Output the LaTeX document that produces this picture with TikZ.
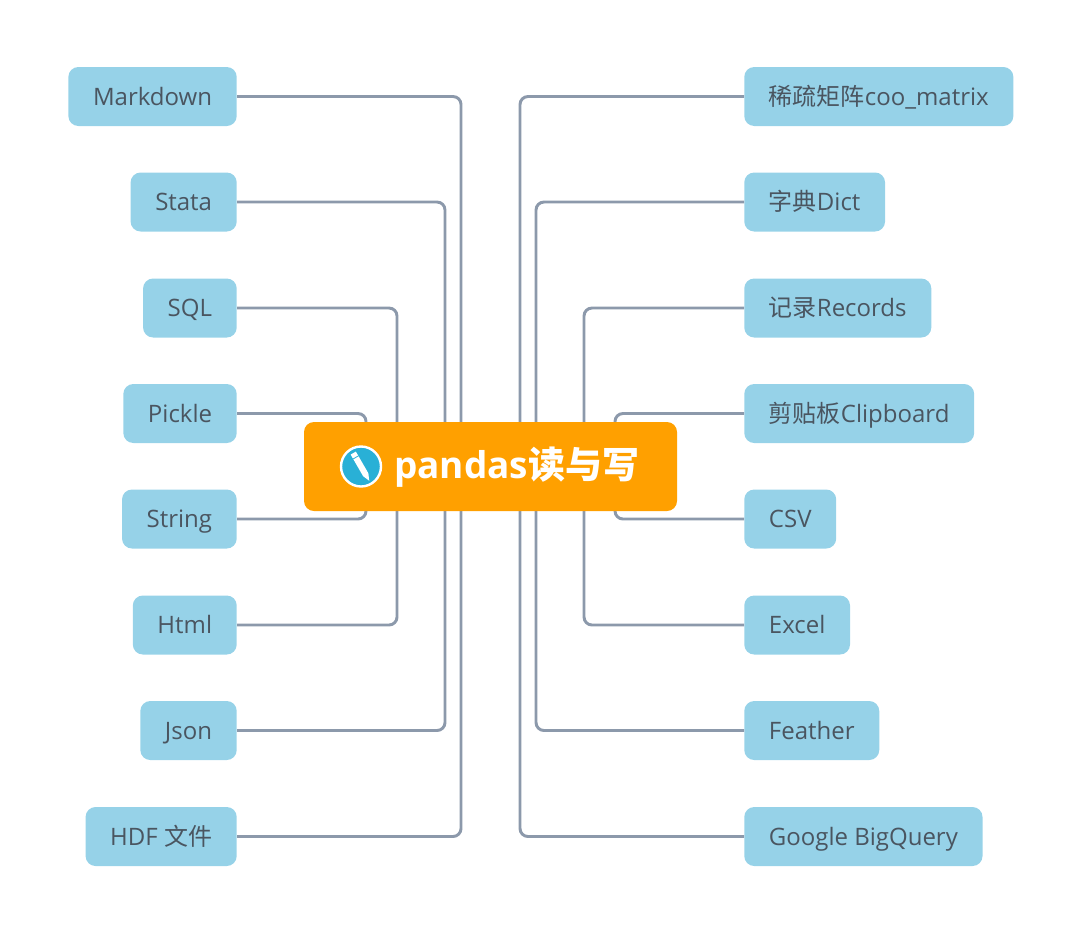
\documentclass[tikz,border=0pt]{standalone}
\usepackage{fontspec}
\setmainfont{Open Sans}
\newfontfamily\cjk{Noto Sans CJK SC}
\usetikzlibrary{positioning}
\definecolor{leafblue}{HTML}{96D2E8}
\definecolor{leafink}{HTML}{4A5560}
\definecolor{rootorange}{HTML}{FFA000}
\definecolor{linkgrey}{HTML}{8C99AB}
\definecolor{iconblue}{HTML}{29B0D6}

\begin{document}
\begin{tikzpicture}[x=0.75pt, y=-0.75pt,
    leaf/.style={fill=leafblue, text=leafink, rounded corners=7.5pt, minimum height=44.25pt, inner xsep=18.5pt, inner ysep=0pt, text height=15.5pt, text depth=2.3pt, font=\fontsize{18}{22}\selectfont},
    lleaf/.style={leaf, anchor=east},
    rleaf/.style={leaf, anchor=west},
    link/.style={draw=linkgrey, line width=2.2pt, rounded corners=6pt},
    root/.style={fill=rootorange, text=white, rounded corners=7.5pt, minimum width=279.75pt, minimum height=66.75pt, inner sep=0pt}]
  \useasboundingbox (0,0) rectangle (1080,933);
  % left column
  \node (markdown) [lleaf] at (237,96.5) {Markdown};
  \node (stata) [lleaf] at (237,202) {Stata};
  \node (sql) [lleaf] at (237,308) {SQL};
  \node (pickle) [lleaf] at (237,413.5) {Pickle};
  \node (string) [lleaf] at (237,519) {String};
  \node (html) [lleaf] at (237,625) {Html};
  \node (json) [lleaf] at (237,730.5) {Json};
  \node (hdf) [lleaf] at (237,836.5) {HDF {\cjk 文件}};
  % right column
  \node (coo) [rleaf] at (744,96.5) {{\cjk 稀疏矩阵}coo\_matrix};
  \node (dict) [rleaf] at (744,202) {{\cjk 字典}Dict};
  \node (records) [rleaf] at (744,308) {{\cjk 记录}Records};
  \node (clipboard) [rleaf] at (744,413.5) {{\cjk 剪贴板}Clipboard};
  \node (csv) [rleaf] at (744,519) {CSV};
  \node (excel) [rleaf] at (744,625) {Excel};
  \node (feather) [rleaf] at (744,730.5) {Feather};
  \node (bigquery) [rleaf] at (744,836.5) {Google BigQuery};
  % ends of the connectors, hidden by the root box
  \coordinate (la) at (461,466);
  \coordinate (lb) at (445,466);
  \coordinate (lc) at (397,466);
  \coordinate (ld) at (366,466);
  \coordinate (ra) at (520,466);
  \coordinate (rb) at (536,466);
  \coordinate (rc) at (584,466);
  \coordinate (rd) at (615,466);
  \draw [link] (markdown.east) -| (la);
  \draw [link] (hdf.east) -| (la);
  \draw [link] (stata.east) -| (lb);
  \draw [link] (json.east) -| (lb);
  \draw [link] (sql.east) -| (lc);
  \draw [link] (html.east) -| (lc);
  \draw [link] (pickle.east) -| (ld);
  \draw [link] (string.east) -| (ld);
  \draw [link] (coo.west) -| (ra);
  \draw [link] (bigquery.west) -| (ra);
  \draw [link] (dict.west) -| (rb);
  \draw [link] (feather.west) -| (rb);
  \draw [link] (records.west) -| (rc);
  \draw [link] (excel.west) -| (rc);
  \draw [link] (clipboard.west) -| (rd);
  \draw [link] (csv.west) -| (rd);
  % root with its pencil icon
  \node (rootbox) [root] at (490.5,466.5) {};
  \node (title) [text=white, anchor=west, inner sep=0pt, font=\fontsize{27.7}{32}\selectfont\bfseries] at (394,467) {pandas{\cjk 读与写}};
  \node (icon) [circle, fill=iconblue, draw=white, line width=1.8pt, minimum size=30pt, inner sep=0pt] at (361,466.5) {};
  \fill [white, rotate around={30:(icon.center)}] (358,451) -- (364,451) -- (364,476) -- (361,483) -- (358,476) -- cycle;
  \draw [iconblue, line width=0.6pt, rotate around={30:(icon.center)}] (357.5,456) -- (364.5,456);
\end{tikzpicture}
\end{document}
